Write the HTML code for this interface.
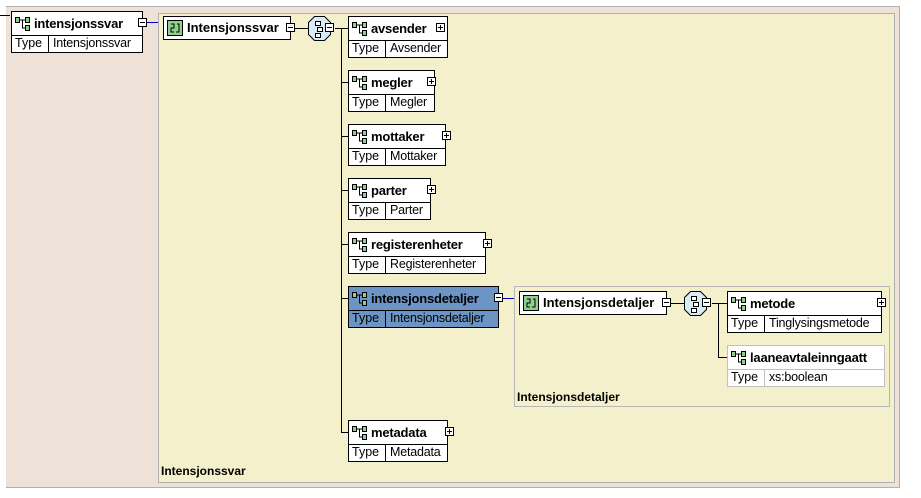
<!DOCTYPE html>
<html><head><meta charset="utf-8"><style>
*{margin:0;padding:0;box-sizing:border-box}
body{width:921px;height:498px;background:#fff;position:relative;overflow:hidden;font-family:"Liberation Sans",sans-serif}
.a{position:absolute}
.el{position:absolute;background:#fff;border:1px solid #000}
.el .n{height:24px;border-bottom:1px solid #000;font-weight:bold;font-size:13px;line-height:23px;padding-left:22px;position:relative;white-space:nowrap;letter-spacing:-0.2px}
.el .t{height:16px;font-size:12.5px;line-height:15px;display:flex;white-space:nowrap}
.el .t span:first-child{width:37px;border-right:1px solid #000;padding-left:3px}
.el .t span+span{padding-left:4px;letter-spacing:-0.2px}
.ic{position:absolute;left:3px;top:5px;width:16px;height:14px}
.exp{position:absolute;width:9px;height:9px;border:1px solid #000;background:#fff}
.exp:before{content:"";position:absolute;left:1px;right:1px;top:3px;height:1px;background:#000}
.plus:after{content:"";position:absolute;top:1px;bottom:1px;left:3px;width:1px;background:#000}
.ct{position:absolute;background:#fff;border:1px solid #000;height:24px;font-weight:bold;font-size:13px;line-height:22px;padding-left:23px;white-space:nowrap}
.lbl{position:absolute;font-weight:bold;font-size:12px}
.sel{background:#6c94c4}
</style></head><body>
<div class="a" style="left:6px;top:6px;width:894px;height:482px;background:#ede1d8;border:1px solid #b0b0b0;border-left:none"></div>
<div class="a" style="left:158px;top:13px;width:737px;height:470px;background:#f4f0cb;border:1px solid #b0b0b0"></div>
<div class="a" style="left:514px;top:286px;width:376px;height:121px;background:#f4f0cb;border:1px solid #b8b8b8"></div>

<svg class="a" style="left:0;top:0" width="921" height="498">
<g stroke="#000" stroke-width="1" fill="none">
<line x1="0" y1="15.5" x2="10" y2="15.5"/>
<line x1="290" y1="28.5" x2="309" y2="28.5"/>
<line x1="335" y1="28.5" x2="348" y2="28.5"/>
<line x1="341.5" y1="28" x2="341.5" y2="433"/>
<line x1="341" y1="82.5" x2="348" y2="82.5"/>
<line x1="341" y1="136.5" x2="348" y2="136.5"/>
<line x1="341" y1="190.5" x2="348" y2="190.5"/>
<line x1="341" y1="244.5" x2="348" y2="244.5"/>
<line x1="341" y1="298.5" x2="348" y2="298.5"/>
<line x1="341" y1="432.5" x2="348" y2="432.5"/>
<line x1="666" y1="303.5" x2="685" y2="303.5"/>
<line x1="712" y1="303.5" x2="727" y2="303.5"/>
<line x1="718.5" y1="303" x2="718.5" y2="358"/>
<line x1="718" y1="357.5" x2="727" y2="357.5"/>
</g>
<g stroke="#0000c0"><line x1="147" y1="22.5" x2="158" y2="22.5"/><line x1="503" y1="298.5" x2="514" y2="298.5"/></g>
<polygon points="314.5,16.5 324.5,16.5 330.5,22.5 330.5,34.5 324.5,40.5 314.5,40.5 308.5,34.5 308.5,22.5" fill="#d8ecf8" stroke="#000"/>
<g stroke="#000" fill="#fff"><rect x="315.5" y="21.5" width="5" height="4"/><rect x="317.5" y="27.5" width="5" height="4"/><rect x="315.5" y="33.5" width="5" height="4"/></g>
<polygon points="690.5,291.5 700.5,291.5 706.5,297.5 706.5,309.5 700.5,315.5 690.5,315.5 684.5,309.5 684.5,297.5" fill="#d8ecf8" stroke="#000"/>
<g stroke="#000" fill="#fff"><rect x="691.5" y="296.5" width="5" height="4"/><rect x="693.5" y="302.5" width="5" height="4"/><rect x="691.5" y="308.5" width="5" height="4"/></g>
</svg>

<div class="el" style="left:11px;top:11px;width:132px;height:42px"><div class="n"><svg class="ic" viewBox="0 0 16 14"><rect x="0.5" y="0.5" width="4" height="5" fill="#8fd08f" stroke="#000"/><rect x="10.5" y="0.5" width="4" height="5" fill="#8fd08f" stroke="#000"/><rect x="10.5" y="8.5" width="4" height="5" fill="#8fd08f" stroke="#000"/><path d="M5 3H10M7.5 3V11H10" stroke="#000" fill="none"/></svg>intensjonssvar</div><div class="t"><span>Type</span><span>Intensjonssvar</span></div></div>
<div class="exp" style="left:138px;top:18px"></div>

<div class="ct" style="left:163px;top:16px;width:128px"><svg class="ic" style="left:3px;top:3px;width:16px;height:16px" viewBox="0 0 16 16"><rect x="0.5" y="0.5" width="15" height="15" fill="#8fd08f" stroke="#000"/><path d="M4 4H7V8H4V12H7M10 4H12V12H9" stroke="#000" fill="none"/></svg>Intensjonssvar</div>
<div class="exp" style="left:286px;top:23px"></div>
<div class="exp" style="left:325px;top:23px"></div>

<div class="el" style="left:348px;top:16px;width:100px;height:42px"><div class="n"><svg class="ic" viewBox="0 0 16 14"><rect x="0.5" y="0.5" width="4" height="5" fill="#8fd08f" stroke="#000"/><rect x="10.5" y="0.5" width="4" height="5" fill="#8fd08f" stroke="#000"/><rect x="10.5" y="8.5" width="4" height="5" fill="#8fd08f" stroke="#000"/><path d="M5 3H10M7.5 3V11H10" stroke="#000" fill="none"/></svg>avsender</div><div class="t"><span>Type</span><span>Avsender</span></div></div>
<div class="exp plus" style="left:436px;top:23px"></div>

<div class="el" style="left:348px;top:70px;width:87px;height:42px"><div class="n"><svg class="ic" viewBox="0 0 16 14"><rect x="0.5" y="0.5" width="4" height="5" fill="#8fd08f" stroke="#000"/><rect x="10.5" y="0.5" width="4" height="5" fill="#8fd08f" stroke="#000"/><rect x="10.5" y="8.5" width="4" height="5" fill="#8fd08f" stroke="#000"/><path d="M5 3H10M7.5 3V11H10" stroke="#000" fill="none"/></svg>megler</div><div class="t"><span>Type</span><span>Megler</span></div></div>
<div class="exp plus" style="left:427px;top:77px"></div>

<div class="el" style="left:348px;top:124px;width:98px;height:42px"><div class="n"><svg class="ic" viewBox="0 0 16 14"><rect x="0.5" y="0.5" width="4" height="5" fill="#8fd08f" stroke="#000"/><rect x="10.5" y="0.5" width="4" height="5" fill="#8fd08f" stroke="#000"/><rect x="10.5" y="8.5" width="4" height="5" fill="#8fd08f" stroke="#000"/><path d="M5 3H10M7.5 3V11H10" stroke="#000" fill="none"/></svg>mottaker</div><div class="t"><span>Type</span><span>Mottaker</span></div></div>
<div class="exp plus" style="left:442px;top:131px"></div>

<div class="el" style="left:348px;top:178px;width:83px;height:42px"><div class="n"><svg class="ic" viewBox="0 0 16 14"><rect x="0.5" y="0.5" width="4" height="5" fill="#8fd08f" stroke="#000"/><rect x="10.5" y="0.5" width="4" height="5" fill="#8fd08f" stroke="#000"/><rect x="10.5" y="8.5" width="4" height="5" fill="#8fd08f" stroke="#000"/><path d="M5 3H10M7.5 3V11H10" stroke="#000" fill="none"/></svg>parter</div><div class="t"><span>Type</span><span>Parter</span></div></div>
<div class="exp plus" style="left:427px;top:185px"></div>

<div class="el" style="left:348px;top:232px;width:138px;height:42px"><div class="n"><svg class="ic" viewBox="0 0 16 14"><rect x="0.5" y="0.5" width="4" height="5" fill="#8fd08f" stroke="#000"/><rect x="10.5" y="0.5" width="4" height="5" fill="#8fd08f" stroke="#000"/><rect x="10.5" y="8.5" width="4" height="5" fill="#8fd08f" stroke="#000"/><path d="M5 3H10M7.5 3V11H10" stroke="#000" fill="none"/></svg>registerenheter</div><div class="t"><span>Type</span><span>Registerenheter</span></div></div>
<div class="exp plus" style="left:483px;top:239px"></div>

<div class="el sel" style="left:348px;top:286px;width:151px;height:42px"><div class="n"><svg class="ic" viewBox="0 0 16 14"><rect x="0.5" y="0.5" width="4" height="5" fill="#8fd08f" stroke="#000"/><rect x="10.5" y="0.5" width="4" height="5" fill="#8fd08f" stroke="#000"/><rect x="10.5" y="8.5" width="4" height="5" fill="#8fd08f" stroke="#000"/><path d="M5 3H10M7.5 3V11H10" stroke="#000" fill="none"/></svg>intensjonsdetaljer</div><div class="t"><span>Type</span><span>Intensjonsdetaljer</span></div></div>
<div class="exp" style="left:494px;top:293px"></div>

<div class="el" style="left:348px;top:420px;width:100px;height:42px"><div class="n"><svg class="ic" viewBox="0 0 16 14"><rect x="0.5" y="0.5" width="4" height="5" fill="#8fd08f" stroke="#000"/><rect x="10.5" y="0.5" width="4" height="5" fill="#8fd08f" stroke="#000"/><rect x="10.5" y="8.5" width="4" height="5" fill="#8fd08f" stroke="#000"/><path d="M5 3H10M7.5 3V11H10" stroke="#000" fill="none"/></svg>metadata</div><div class="t"><span>Type</span><span>Metadata</span></div></div>
<div class="exp plus" style="left:445px;top:427px"></div>

<div class="ct" style="left:519px;top:291px;width:148px"><svg class="ic" style="left:3px;top:3px;width:16px;height:16px" viewBox="0 0 16 16"><rect x="0.5" y="0.5" width="15" height="15" fill="#8fd08f" stroke="#000"/><path d="M4 4H7V8H4V12H7M10 4H12V12H9" stroke="#000" fill="none"/></svg>Intensjonsdetaljer</div>
<div class="exp" style="left:662px;top:298px"></div>
<div class="exp" style="left:702px;top:298px"></div>

<div class="el" style="left:727px;top:291px;width:155px;height:42px"><div class="n"><svg class="ic" viewBox="0 0 16 14"><rect x="0.5" y="0.5" width="4" height="5" fill="#8fd08f" stroke="#000"/><rect x="10.5" y="0.5" width="4" height="5" fill="#8fd08f" stroke="#000"/><rect x="10.5" y="8.5" width="4" height="5" fill="#8fd08f" stroke="#000"/><path d="M5 3H10M7.5 3V11H10" stroke="#000" fill="none"/></svg>metode</div><div class="t"><span>Type</span><span>Tinglysingsmetode</span></div></div>
<div class="exp plus" style="left:877px;top:298px"></div>

<div class="el" style="left:727px;top:345px;width:158px;height:42px;border-color:#c0c0c0"><div class="n" style="border-color:#c0c0c0"><svg class="ic" viewBox="0 0 16 14"><rect x="0.5" y="0.5" width="4" height="5" fill="#8fd08f" stroke="#000"/><rect x="10.5" y="0.5" width="4" height="5" fill="#8fd08f" stroke="#000"/><rect x="10.5" y="8.5" width="4" height="5" fill="#8fd08f" stroke="#000"/><path d="M5 3H10M7.5 3V11H10" stroke="#000" fill="none"/></svg>laaneavtaleinngaatt</div><div class="t"><span style="border-color:#c0c0c0">Type</span><span>xs:boolean</span></div></div>

<div class="lbl" style="left:517px;top:390px">Intensjonsdetaljer</div>
<div class="lbl" style="left:161px;top:464px">Intensjonssvar</div>
</body></html>
